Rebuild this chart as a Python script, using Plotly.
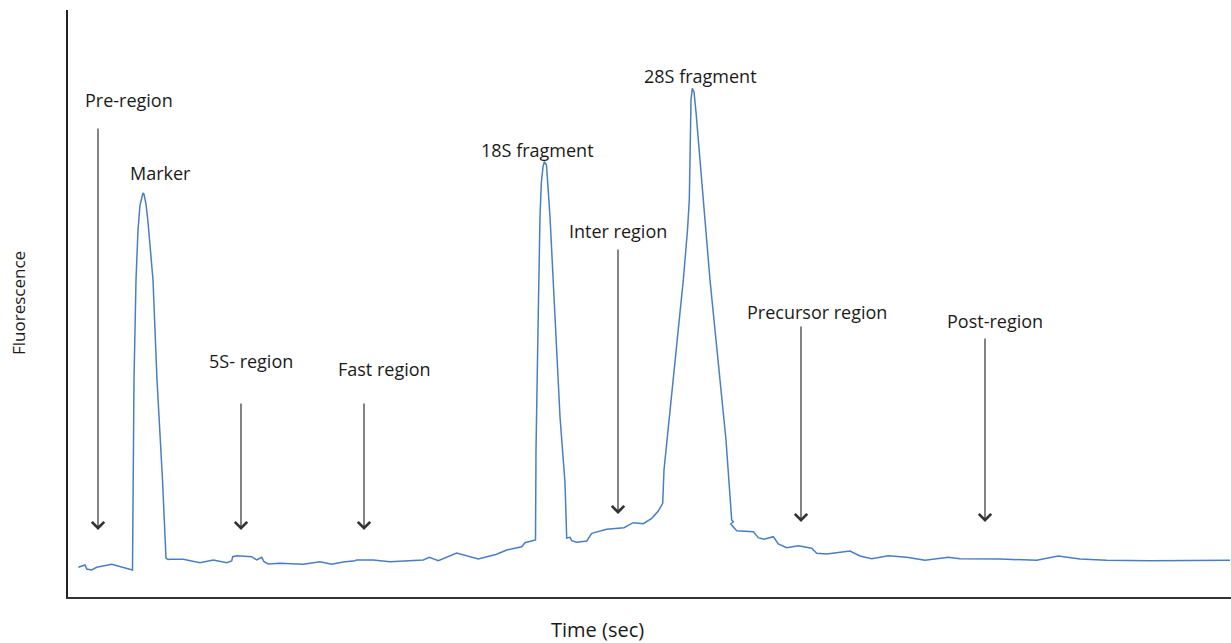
import plotly.graph_objects as go

# Electropherogram trace: migration time (s) vs fluorescence (a.u.)
time_s = [
    1.03, 1.7, 1.87, 2.37, 2.87, 4.37, 6.45,
    6.5, 6.6, 6.8, 7.0, 7.2, 7.4, 7.5, 7.6, 7.8, 8.0, 8.2, 8.5, 8.9, 9.45, 9.8, 10.0,
    10.2, 11.53, 13.2, 14.53, 15.87, 16.37, 16.47, 16.87, 18.37, 18.87, 19.37, 19.6,
    20.03, 21.2, 23.53, 25.2, 26.37, 27.53, 28.7, 28.87, 30.53, 32.2, 35.53, 36.13,
    37.03, 37.87, 38.87, 41.03, 42.87, 43.87, 45.37, 45.7, 46.75,
    46.8, 46.93, 47.05, 47.2, 47.33, 47.5, 47.63, 47.85, 48.2, 48.7, 49.2, 49.7, 49.87,
    50.2, 50.37, 50.87, 51.87, 52.37, 53.87, 55.6, 56.53, 57.53, 58.37, 59.03, 59.47,
    59.6, 60.53, 61.53, 61.95, 62.13, 62.25, 62.3, 62.43, 62.6, 62.8, 63.37, 64.2, 65.2,
    65.8, 66.37, 66.53, 66.27, 66.87, 68.53, 69.03, 69.6, 70.53, 71.03, 71.87, 73.03,
    74.37, 74.87, 75.87, 78.2, 79.2, 80.37, 82.03, 83.87, 85.7, 88.03, 89.2, 93.2,
    96.87, 99.03, 101.2, 103.87, 108.2, 116.2,
]
fluorescence = [
    5.94, 6.4, 5.6, 5.4, 5.94, 6.54, 5.4,
    23.4, 43.4, 63.4, 73.4, 78.4, 80.4, 80.8, 80.6, 78.6, 75.0, 70.0, 63.4, 43.4, 23.4, 7.8, 7.5,
    7.54, 7.54, 6.86, 7.4, 6.86, 7.2, 8.06, 8.26, 8.06, 7.4, 7.94, 7.06,
    6.6, 6.74, 6.54, 7.06, 6.54, 7.0, 7.26, 7.4, 7.4, 7.06, 7.4, 7.94,
    7.26, 7.94, 8.8, 7.6, 8.54, 9.4, 10.06, 10.86, 11.4,
    29.4, 49.4, 59.4, 76.0, 82.8, 86.0, 87.06, 86.4, 76.06, 56.06, 36.06, 22.8, 11.8,
    11.94, 11.26, 10.94, 11.2, 12.74, 13.54, 13.86, 14.86, 14.66, 15.74, 17.2, 18.74,
    25.4, 43.4, 63.4, 73.4, 79.4, 93.4, 99.4, 101.74, 101.0, 97.0, 83.4, 63.4, 43.4,
    31.4, 15.4, 15.06, 14.6, 13.26, 13.06, 11.86, 11.54, 12.06, 10.6, 9.86, 10.26,
    9.74, 8.74, 8.6, 9.2, 8.2, 7.66, 8.26, 7.94, 7.34, 7.94, 7.66, 7.6,
    7.34, 8.2, 7.6, 7.34, 7.26, 7.34,
]

# Peak / region labels
region_labels = ["Pre-region", "Marker", "5S- region", "Fast region", "18S fragment",
                 "Inter region", "28S fragment", "Precursor region", "Post-region"]
label_time = [6.1, 9.2, 18.3, 31.6, 46.9, 55.0, 63.2, 74.9, 92.7]
label_fluor = [99.4, 84.8, 47.2, 45.6, 89.4, 73.2, 104.2, 57.0, 55.2]

# Downward arrows marking each region: x, arrow tail, arrow tip
arrow_time = [3.0, 17.3, 29.6, 55.0, 73.3, 91.7]
arrow_top = [94.0, 39.0, 39.0, 69.8, 54.4, 52.0]
arrow_tip = [13.4, 13.4, 13.4, 16.6, 15.0, 15.0]

TEXT_FONT = dict(family="Open Sans", size=18, color="#1a1a1a")

fig = go.Figure()
fig.add_trace(go.Scatter(
    x=time_s, y=fluorescence, mode="lines",
    line=dict(color="#4A7EC4", width=1.5),
    hoverinfo="skip", showlegend=False,
))

annotations = []
for txt, tx, fy in zip(region_labels, label_time, label_fluor):
    annotations.append(dict(
        x=tx, y=fy, xref="x", yref="y", text=txt, showarrow=False,
        font=TEXT_FONT, xanchor="center", yanchor="middle",
    ))
for tx, top, tip in zip(arrow_time, arrow_top, arrow_tip):
    annotations.append(dict(
        x=tx, y=tip, ax=tx, ay=top, xref="x", yref="y", axref="x", ayref="y",
        text="", showarrow=True, arrowhead=4, arrowsize=2.0, arrowwidth=1.2,
        arrowcolor="#333333", standoff=0,
    ))
annotations.append(dict(
    x=0.4557, y=-0.0562, xref="paper", yref="paper", text="Time (sec)",
    showarrow=False, font=dict(family="Open Sans", size=20, color="#1a1a1a"),
    xanchor="center", yanchor="middle",
))
annotations.append(dict(
    x=-0.0421, y=0.501, xref="paper", yref="paper", text="Fluorescence",
    showarrow=False, textangle=-90, font=dict(family="Open Sans", size=17, color="#1a1a1a"),
    xanchor="center", yanchor="middle",
))

fig.update_layout(
    width=1231, height=643,
    margin=dict(l=68, r=0, t=10, b=46),
    paper_bgcolor="white", plot_bgcolor="white",
    annotations=annotations,
    xaxis=dict(range=[0, 116.3], showline=True, linecolor="#333333", linewidth=2,
               showgrid=False, zeroline=False, showticklabels=False, ticks=""),
    yaxis=dict(range=[0, 117.4], showline=True, linecolor="#222222", linewidth=1.5,
               showgrid=False, zeroline=False, showticklabels=False, ticks=""),
)

fig.write_html("out.html")
